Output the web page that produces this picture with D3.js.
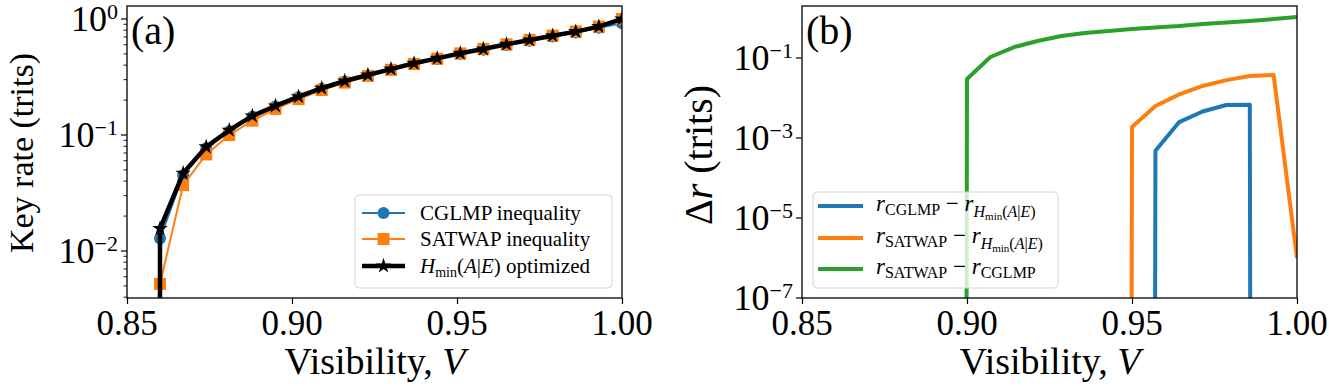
<!DOCTYPE html>
<html>
<head>
<meta charset="utf-8">
<script src="https://cdn.jsdelivr.net/npm/d3@7"></script>
<style>
  body { margin: 0; background: #fff; }
  svg { display: block; font-family: "Liberation Serif", "DejaVu Serif", serif; }
</style>
</head>
<body>
<svg id="svg" width="1329" height="386"></svg>
<script>
// ---- data ----
// panel (a): key rate vs visibility (first entry is a zero, clipped like matplotlib does)
var visA = [0.853, 0.860, 0.867, 0.874, 0.881, 0.888, 0.895, 0.902, 0.909, 0.916, 0.923,
            0.930, 0.937, 0.944, 0.951, 0.958, 0.965, 0.972, 0.979, 0.986, 0.993, 1.000];
var rateCGLMP  = [0, 0.0128, 0.045, 0.077, 0.108, 0.144, 0.176, 0.212, 0.250, 0.289, 0.326,
                  0.366, 0.410, 0.452, 0.500, 0.544, 0.597, 0.650, 0.705, 0.765, 0.840, 0.920];
var rateSATWAP = [0, 0.0052, 0.037, 0.068, 0.100, 0.133, 0.168, 0.204, 0.244, 0.283, 0.323,
                  0.365, 0.410, 0.455, 0.505, 0.552, 0.605, 0.660, 0.720, 0.780, 0.860, 1.000];
var rateHmin   = [0, 0.0156, 0.0468, 0.079, 0.110, 0.146, 0.178, 0.214, 0.253, 0.292, 0.329,
                  0.370, 0.415, 0.458, 0.506, 0.551, 0.605, 0.659, 0.718, 0.778, 0.859, 1.000];

// panel (b): rate differences
var visB = [0.8929, 0.9000, 0.9071, 0.9143, 0.9214, 0.9286, 0.9357, 0.9429,
            0.9500, 0.9571, 0.9643, 0.9714, 0.9786, 0.9857, 0.9929, 1.0000];
var diffCGLMP  = [0, 0, 0, 0, 0, 0, 0, 0, 0, 0.00048, 0.0025, 0.0046, 0.0067, 0.0068, 0, 0];
var diffSATWAP = [0, 0, 0, 0, 0, 0, 0, 0, 0.00188, 0.0063, 0.0123, 0.020, 0.028, 0.0355, 0.038, 1.0e-6];
var diffSatCg  = [0, 0.030, 0.106, 0.188, 0.266, 0.355, 0.42, 0.47, 0.53, 0.58, 0.63, 0.71, 0.77, 0.84, 0.94, 1.06];

var xTicks = [0.85, 0.90, 0.95, 1.00];
var yTicksA = [-2, -1, 0];
var yTicksB = [-7, -5, -3, -1];

var blue = "#1f77b4", orange = "#ff7f0e", green = "#2ca02c";

var svg = d3.select("svg");

// nonpositive values -> tiny number (matplotlib "clip" behaviour on log axes)
function clipv(v){ return v > 0 ? v : 1e-300; }

// text with sub/superscripts: segs = [[text, size, italic, shift]]
function richText(g, x, y, segs, anchor){
    var t = g.append("text").attr("x", x).attr("y", y).attr("fill", "black")
        .attr("text-anchor", anchor || "start");
    var prev = 0;
    segs.forEach(function(s){
        t.append("tspan").text(s[0]).attr("font-size", s[1])
            .attr("font-style", s[2] ? "italic" : "normal")
            .attr("dy", s[3] - prev);
        prev = s[3];
    });
    return t;
}

function makePanel(id, left, right, top, bottom, ymin, ymax){
    var x = d3.scaleLinear().domain([0.85, 1.0]).range([left, right]);
    var y = d3.scaleLog().domain([ymin, ymax]).range([bottom, top]);
    var g = svg.append("g");
    g.append("clipPath").attr("id", "clip" + id).append("rect")
        .attr("x", left).attr("y", top).attr("width", right - left).attr("height", bottom - top);
    return {x: x, y: y, g: g, plot: g.append("g").attr("clip-path", "url(#clip" + id + ")"),
            left: left, right: right, top: top, bottom: bottom};
}

function frame(p){
    p.g.append("rect").attr("x", p.left).attr("y", p.top)
        .attr("width", p.right - p.left).attr("height", p.bottom - p.top)
        .attr("fill", "none").attr("stroke", "black").attr("stroke-width", 1.3);
    // x ticks
    var xa = p.g.append("g").attr("transform", "translate(0," + p.bottom + ")")
        .call(d3.axisBottom(p.x).tickValues(xTicks).tickSize(6).tickFormat(""));
    xa.select(".domain").remove();
    xa.selectAll("line").attr("stroke-width", 1.2);
    xTicks.forEach(function(v){
        p.g.append("text").attr("x", p.x(v)).attr("y", 335).attr("text-anchor", "middle")
            .attr("font-size", 35).text(d3.format(".2f")(v));
    });
}

function yLabels(p, exps, xEnd){
    exps.forEach(function(e){
        var yy = p.y(Math.pow(10, e));
        p.g.append("line").attr("x1", p.left - 6).attr("x2", p.left)
            .attr("y1", yy).attr("y2", yy).attr("stroke", "black").attr("stroke-width", 1.2);
        var sup = e < 0 ? "\u2212" + (-e) : "" + e;
        richText(p.g, xEnd, yy + 12, [["10", 36, false, 0], [sup, 22, false, -12]], "end");
    });
}

function drawLine(p, xs, ys, color, width){
    var pts = xs.map(function(v, i){ return [v, ys[i]]; });
    p.plot.append("path").datum(pts)
        .attr("d", d3.line().x(function(d){ return p.x(d[0]); }).y(function(d){ return p.y(clipv(d[1])); }))
        .attr("fill", "none").attr("stroke", color).attr("stroke-width", width)
        .attr("stroke-linejoin", "round");
    return pts.filter(function(d){ return d[1] > 0; });
}

// ---------------- panel (a) ----------------
var A = makePanel("a", 127, 622, 6, 298, Math.pow(10, -2.405), Math.pow(10, 0.112));

// minor y ticks
[-3, -2, -1].forEach(function(e){
    for (var m = 2; m <= 9; m++){
        var v = m * Math.pow(10, e);
        if (v < A.y.domain()[0] || v > A.y.domain()[1]) continue;
        A.g.append("line").attr("x1", A.left - 3.5).attr("x2", A.left)
            .attr("y1", A.y(v)).attr("y2", A.y(v)).attr("stroke", "black").attr("stroke-width", 0.9);
    }
});

var ptsC = drawLine(A, visA, rateCGLMP, blue, 2);
A.plot.selectAll(".mc").data(ptsC).enter().append("circle")
    .attr("cx", function(d){ return A.x(d[0]); }).attr("cy", function(d){ return A.y(d[1]); })
    .attr("r", 6).attr("fill", blue);

var ptsS = drawLine(A, visA, rateSATWAP, orange, 2);
A.plot.selectAll(".ms").data(ptsS).enter().append("rect")
    .attr("x", function(d){ return A.x(d[0]) - 6; }).attr("y", function(d){ return A.y(d[1]) - 6; })
    .attr("width", 12).attr("height", 12).attr("fill", orange);

var star = d3.symbol().type(d3.symbolStar).size(75);
var ptsH = drawLine(A, visA, rateHmin, "black", 4.5);
A.plot.selectAll(".mh").data(ptsH).enter().append("path")
    .attr("d", star)
    .attr("transform", function(d){ return "translate(" + A.x(d[0]) + "," + A.y(d[1]) + ")"; })
    .attr("fill", "black");

frame(A);
yLabels(A, yTicksA, 118);

richText(A.g, 131, 44, [["(a)", 40, false, 0]]);
A.g.append("text").attr("transform", "translate(33,153) rotate(-90)").attr("text-anchor", "middle")
    .attr("font-size", 34).text("Key rate (trits)");
richText(A.g, 375, 374, [["Visibility, ", 38, false, 0], ["V", 38, true, 0]], "middle");

// legend (a)
var legA = A.g.append("g");
legA.append("rect").attr("x", 355).attr("y", 195).attr("width", 257).attr("height", 93)
    .attr("rx", 4).attr("fill", "white").attr("fill-opacity", 0.8)
    .attr("stroke", "#d4d4d4").attr("stroke-width", 1);
var legRowsA = [
    {c: blue, w: 2, mk: "circle", y: 213, segs: [["CGLMP inequality", 21, false, 0]]},
    {c: orange, w: 2, mk: "square", y: 239, segs: [["SATWAP inequality", 21, false, 0]]},
    {c: "black", w: 4.5, mk: "star", y: 266, segs: [["H", 21, true, 0], ["min", 14, false, 4],
        ["(", 21, false, 0], ["A", 21, true, 0], ["|", 21, false, 0], ["E", 21, true, 0], [") optimized", 21, false, 0]]}
];
legRowsA.forEach(function(r){
    legA.append("line").attr("x1", 362).attr("x2", 405).attr("y1", r.y).attr("y2", r.y)
        .attr("stroke", r.c).attr("stroke-width", r.w);
    if (r.mk === "circle") legA.append("circle").attr("cx", 383.5).attr("cy", r.y).attr("r", 6).attr("fill", r.c);
    if (r.mk === "square") legA.append("rect").attr("x", 377.5).attr("y", r.y - 6).attr("width", 12).attr("height", 12).attr("fill", r.c);
    if (r.mk === "star") legA.append("path").attr("d", star).attr("transform", "translate(383.5," + r.y + ")").attr("fill", r.c);
    richText(legA, 420, r.y + 7, r.segs);
});

// ---------------- panel (b) ----------------
var B = makePanel("b", 802, 1297, 6, 298, 1e-7, Math.pow(10, 0.3));

drawLine(B, visB, diffCGLMP, blue, 4);
drawLine(B, visB, diffSATWAP, orange, 4);
drawLine(B, visB, diffSatCg, green, 4);

frame(B);
yLabels(B, yTicksB, 793);

richText(B.g, 806, 44, [["(b)", 40, false, 0]]);
var yl = B.g.append("g").attr("transform", "translate(712,155) rotate(-90)");
richText(yl, 0, 0, [["\u0394", 40, false, 0], ["r", 40, true, 0], [" (trits)", 40, false, 0]], "middle");
richText(B.g, 1050, 374, [["Visibility, ", 38, false, 0], ["V", 38, true, 0]], "middle");

// legend (b)
var legB = B.g.append("g");
legB.append("rect").attr("x", 813).attr("y", 192).attr("width", 245).attr("height", 96)
    .attr("rx", 4).attr("fill", "white").attr("fill-opacity", 0.8)
    .attr("stroke", "#d4d4d4").attr("stroke-width", 1);
var hminSegs = [["H", 16, true, 6], ["min", 11, false, 9], ["(", 16, false, 6], ["A", 16, true, 6],
                ["|", 16, false, 6], ["E", 16, true, 6], [")", 16, false, 6]];
var legRowsB = [
    {c: blue, y: 206, segs: [["r", 23, true, 0], ["CGLMP", 16, false, 4], [" \u2212 ", 23, false, 0], ["r", 23, true, 0]].concat(hminSegs)},
    {c: orange, y: 238, segs: [["r", 23, true, 0], ["SATWAP", 16, false, 4], [" \u2212 ", 23, false, 0], ["r", 23, true, 0]].concat(hminSegs)},
    {c: green, y: 269, segs: [["r", 23, true, 0], ["SATWAP", 16, false, 4], [" \u2212 ", 23, false, 0], ["r", 23, true, 0], ["CGLMP", 16, false, 4]]}
];
legRowsB.forEach(function(r){
    legB.append("line").attr("x1", 818).attr("x2", 863).attr("y1", r.y).attr("y2", r.y)
        .attr("stroke", r.c).attr("stroke-width", 4);
    richText(legB, 876, r.y + 5, r.segs);
});
</script>
</body>
</html>
